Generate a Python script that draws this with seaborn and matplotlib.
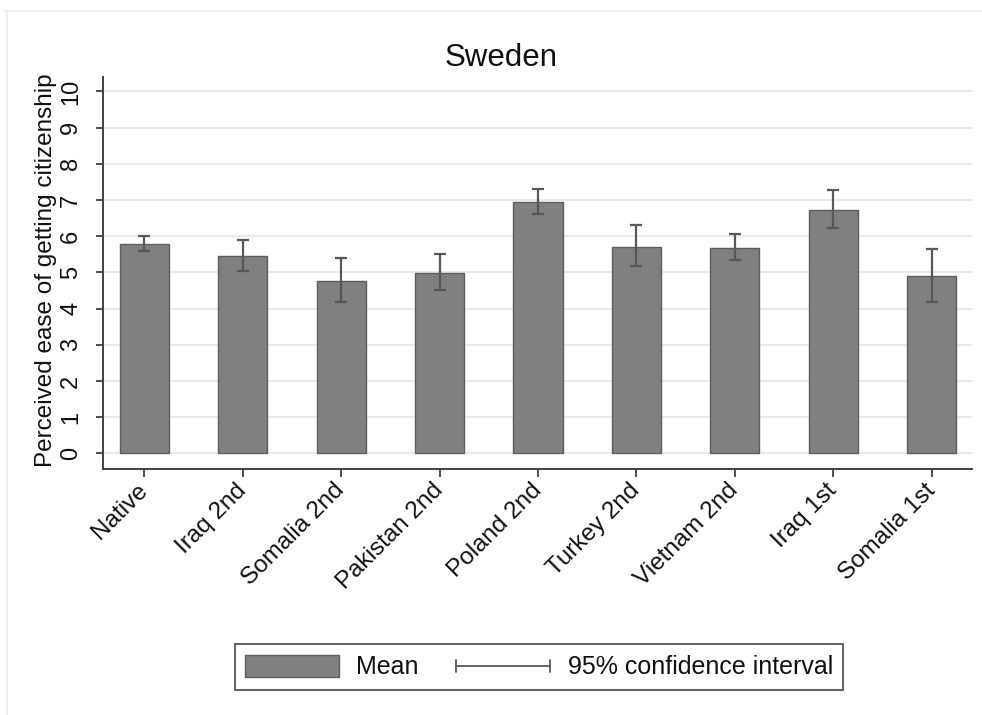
import matplotlib
matplotlib.use("Agg")
import matplotlib.pyplot as plt
from matplotlib.patches import Patch
from matplotlib.lines import Line2D
from matplotlib.legend_handler import HandlerBase
import numpy as np
import pandas as pd
import seaborn as sns

# Groups and estimates
groups = ["Native", "Iraq 2nd", "Somalia 2nd", "Pakistan 2nd", "Poland 2nd",
          "Turkey 2nd", "Vietnam 2nd", "Iraq 1st", "Somalia 1st"]
means = [5.78, 5.45, 4.76, 4.99, 6.94, 5.71, 5.67, 6.73, 4.89]
ci_low = [5.60, 5.05, 4.18, 4.51, 6.62, 5.19, 5.34, 6.24, 4.19]
ci_high = [6.01, 5.90, 5.39, 5.51, 7.31, 6.30, 6.06, 7.27, 5.65]
y_ticks = list(range(0, 11))

title = "Sweden"
y_label = "Perceived ease of getting citizenship"
legend_labels = ["Mean", "95% confidence interval"]

df = pd.DataFrame({"group": groups, "mean": means,
                   "lo": ci_low, "hi": ci_high})

sns.set_theme(style="white")
plt.rcParams["font.family"] = ["Liberation Sans", "DejaVu Sans"]

BAR = "#808080"
BAR_EDGE = "#5e5e5e"
ERR = "#585858"
AXIS = "#404040"
GRID = "#e8e8e8"
TEXT = "#111111"

W, H = 982, 715
fig = plt.figure(figsize=(W / 100, H / 100), dpi=100)
ax = fig.add_axes([103 / W, 1 - 469 / H, (972 - 103) / W, (469 - 77) / H])

sns.barplot(data=df, x="group", y="mean", order=groups, color=BAR,
            saturation=1, width=0.5, errorbar=None, ax=ax,
            edgecolor=BAR_EDGE, linewidth=1.0, zorder=3)

xpos = np.arange(len(groups))
yerr = np.vstack([df["mean"] - df["lo"], df["hi"] - df["mean"]])
ax.errorbar(xpos, df["mean"], yerr=yerr, fmt="none", ecolor=ERR,
            elinewidth=1.6, capsize=4.2, capthick=1.6, zorder=4)

ax.set_xlim(-0.42, len(groups) - 1 + 0.41)
ax.set_ylim(-0.43, 10.4)
ax.set_yticks(y_ticks)
ax.set_yticklabels([str(t) for t in y_ticks], rotation=90, va="center",
                   fontsize=17, color=TEXT)
ax.set_xticks(xpos)
ax.set_xticklabels(groups, rotation=45, ha="right", va="center",
                   rotation_mode="anchor", fontsize=17.5, color=TEXT)

ax.grid(axis="y", color=GRID, linewidth=1.3, zorder=0)
ax.grid(axis="x", visible=False)
ax.set_axisbelow(True)

for side in ("top", "right"):
    ax.spines[side].set_visible(False)
for side in ("left", "bottom"):
    ax.spines[side].set_color(AXIS)
    ax.spines[side].set_linewidth(1.4)

ax.tick_params(axis="y", which="major", left=True, length=5, width=1.3,
               color=AXIS, pad=10)
ax.tick_params(axis="x", which="major", bottom=True, length=6, width=1.3,
               color=AXIS, pad=7)
ax.set_xlabel("")
ax.set_ylabel("")

fig.text(46 / W, 1 - 270 / H, y_label, rotation=90, ha="center",
         va="center", fontsize=17.5, color=TEXT)
fig.text(501 / W, 1 - 58 / H, title, ha="center", va="center",
         fontsize=22.5, color=TEXT)


class CapLineHandler(HandlerBase):
    """Horizontal line with end caps, standing for the confidence interval."""

    def create_artists(self, legend, orig_handle, xdescent, ydescent,
                       width, height, fontsize, trans):
        yc = height / 2 - ydescent
        cap = height * 0.28
        line = Line2D([-xdescent, width - xdescent], [yc, yc],
                      color=ERR, lw=1.3, transform=trans)
        c1 = Line2D([-xdescent, -xdescent], [yc - cap, yc + cap],
                    color=ERR, lw=1.3, transform=trans)
        c2 = Line2D([width - xdescent, width - xdescent],
                    [yc - cap, yc + cap], color=ERR, lw=1.3, transform=trans)
        return [line, c1, c2]


mean_handle = Patch(facecolor=BAR, edgecolor=BAR_EDGE, linewidth=1.0)
ci_handle = Line2D([], [], color=ERR)

leg = fig.legend([mean_handle, ci_handle], legend_labels, ncol=2,
                 loc="center", bbox_to_anchor=(539 / W, 1 - 667 / H),
                 fontsize=18, frameon=True, fancybox=False,
                 handlelength=3.75, handleheight=1.0, handletextpad=0.7,
                 columnspacing=1.5, borderpad=0.42,
                 handler_map={Line2D: CapLineHandler()})
frame = leg.get_frame()
frame.set_edgecolor(AXIS)
frame.set_linewidth(1.5)
frame.set_facecolor("white")
for t in leg.get_texts():
    t.set_color(TEXT)

# thin outer frame along the top and left edges
fig.add_artist(Line2D([4 / W, 1], [1 - 11 / H, 1 - 11 / H],
                      transform=fig.transFigure, color="#ececec", lw=1.2))
fig.add_artist(Line2D([7 / W, 7 / W], [0, 1 - 11 / H],
                      transform=fig.transFigure, color="#ececec", lw=1.2))

fig.savefig("out.png", dpi=100, facecolor="white")
